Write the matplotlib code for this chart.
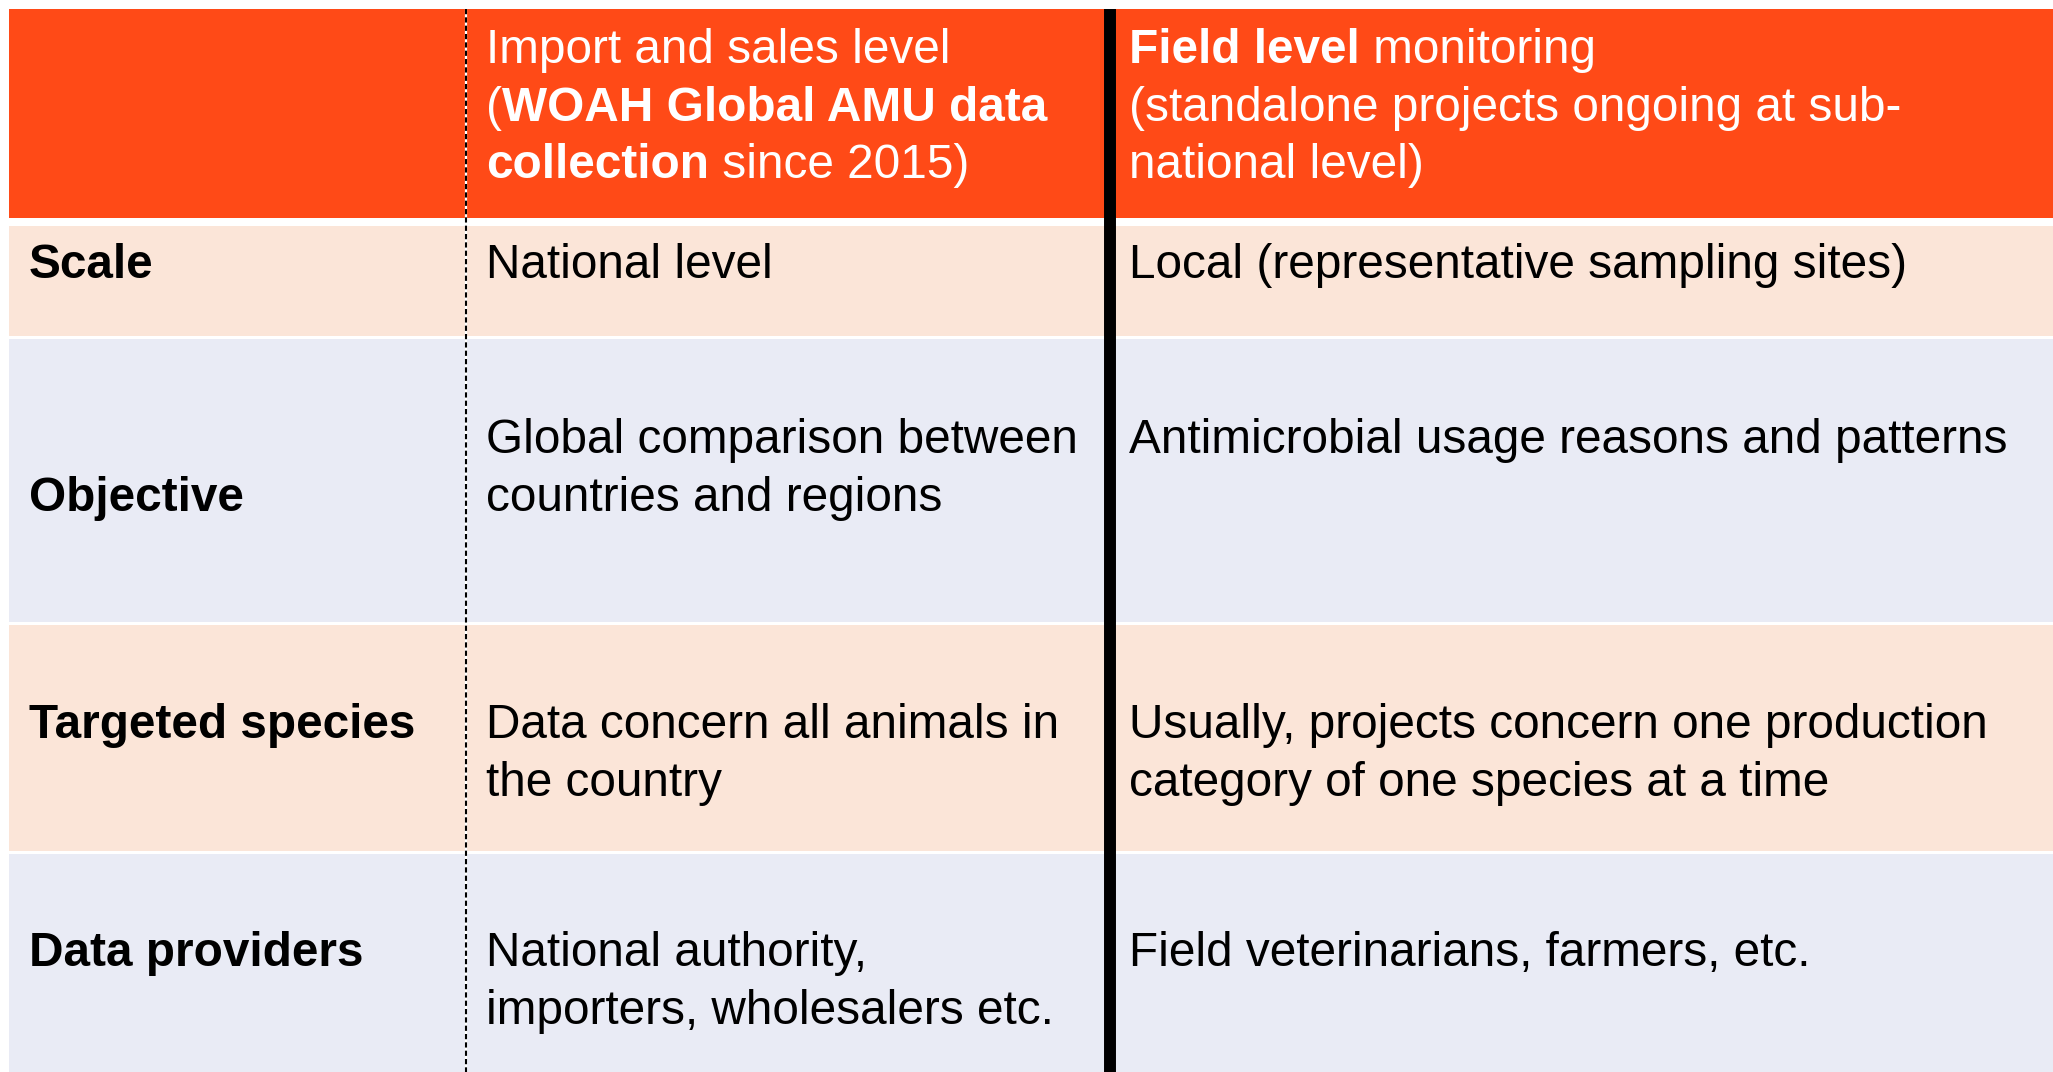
import matplotlib
matplotlib.use("Agg")
import matplotlib.pyplot as plt
from matplotlib.patches import Rectangle

plt.rcParams['font.family'] = ['Liberation Sans', 'DejaVu Sans']

# table content
row_labels = ["Scale", "Objective", "Targeted species", "Data providers"]

# header lines, each one a list of (text, bold) runs
header_col2 = [
    [("Import and sales level", False)],
    [("(", False), ("WOAH Global AMU data", True)],
    [("collection", True), (" since 2015)", False)],
]
header_col3 = [
    [("Field level", True), (" monitoring", False)],
    [("(standalone projects ongoing at sub-", False)],
    [("national level)", False)],
]

col2_cells = [
    ["National level"],
    ["Global comparison between", "countries and regions"],
    ["Data concern all animals in", "the country"],
    ["National authority,", "importers, wholesalers etc."],
]
col3_cells = [
    ["Local (representative sampling sites)"],
    ["Antimicrobial usage reasons and patterns"],
    ["Usually, projects concern one production", "category of one species at a time"],
    ["Field veterinarians, farmers, etc."],
]

# layout (pixels)
W, H = 2053, 1072
left, right = 9, W
col_x = [9, 466, 1110]          # column starts
text_x = [29, 486, 1129]
header_top, header_bot = 9, 218
row_tops = [226, 339, 625, 854]
row_bots = [336, 622, 851, 1072]
row_first_base = [278, 453, 738, 966]
label_line = [0, 1, 0, 0]
line_h = 57.6
header_base = 63
fs = 34.4

c_head = "#FF4A17"
c_body = ["#FBE5D8", "#E9EBF5", "#FBE5D8", "#E9EBF5"]

fig = plt.figure(figsize=(W / 100, H / 100), dpi=100)
ax = fig.add_axes([0, 0, 1, 1])
ax.set_xlim(0, W)
ax.set_ylim(H, 0)
ax.axis("off")

ax.add_patch(Rectangle((left, header_top), right - left, header_bot - header_top,
                       facecolor=c_head, edgecolor="none"))
for i in range(len(row_labels)):
    ax.add_patch(Rectangle((left, row_tops[i]), right - left, row_bots[i] - row_tops[i],
                           facecolor=c_body[i], edgecolor="none"))

renderer = fig.canvas.get_renderer()


def draw_runs(x, y, runs, color):
    for txt, bold in runs:
        t = ax.text(x, y, txt, fontsize=fs, color=color, va="baseline", ha="left",
                    fontweight="bold" if bold else "normal")
        bb = t.get_window_extent(renderer=renderer)
        x0 = ax.transData.inverted().transform((bb.x0, bb.y0))[0]
        x1 = ax.transData.inverted().transform((bb.x1, bb.y0))[0]
        x = x + (x1 - x0)


for k, runs in enumerate(header_col2):
    draw_runs(text_x[1], header_base + k * line_h, runs, "white")
for k, runs in enumerate(header_col3):
    draw_runs(text_x[2], header_base + k * line_h, runs, "white")

for i, lab in enumerate(row_labels):
    ax.text(text_x[0], row_first_base[i] + label_line[i] * line_h, lab, fontsize=fs,
            fontweight="bold", va="baseline", ha="left", color="black")
    for k, ln in enumerate(col2_cells[i]):
        ax.text(text_x[1], row_first_base[i] + k * line_h, ln, fontsize=fs,
                va="baseline", ha="left", color="black")
    for k, ln in enumerate(col3_cells[i]):
        ax.text(text_x[2], row_first_base[i] + k * line_h, ln, fontsize=fs,
                va="baseline", ha="left", color="black")

# column separators
ax.plot([col_x[1], col_x[1]], [header_top, H], color="white", lw=1.6)
ax.plot([col_x[1], col_x[1]], [header_top, H], color="black", lw=1.5,
        linestyle=(0, (2.5, 1.5)))
ax.plot([col_x[2], col_x[2]], [header_top, H], color="black", lw=8.6,
        solid_capstyle="butt")

fig.savefig("out.png", dpi=100)
